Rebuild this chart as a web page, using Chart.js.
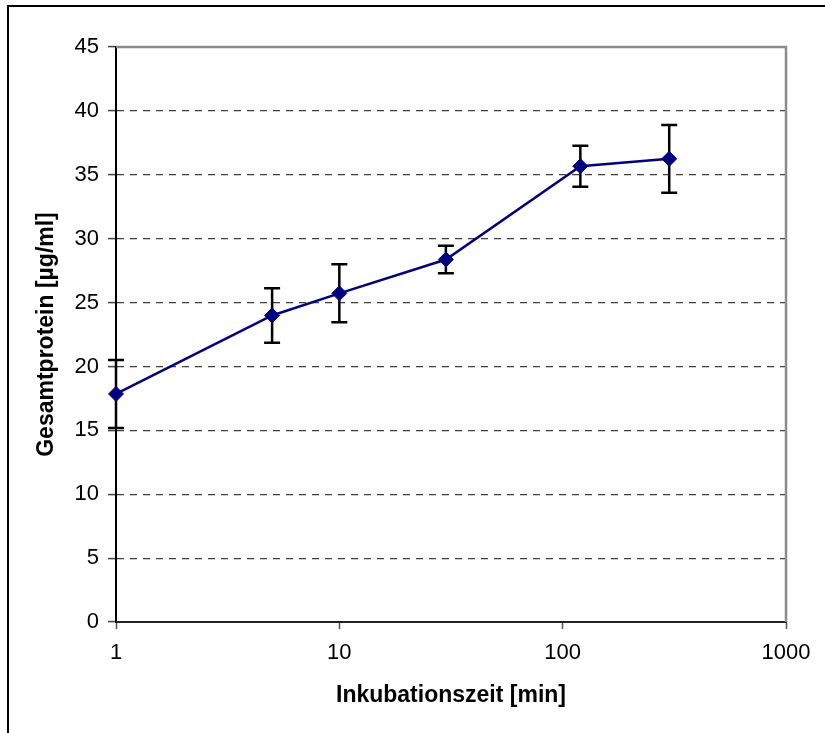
<!DOCTYPE html>
<html>
<head>
<meta charset="utf-8">
<script src="https://cdn.jsdelivr.net/npm/chart.js@4/dist/chart.umd.min.js"></script>
<style>
  html, body { margin: 0; padding: 0; background: #ffffff; }
  #wrap { width: 825px; height: 733px; position: relative; }
</style>
</head>
<body>
<div id="wrap"><canvas id="c" width="825" height="733"></canvas></div>
<script>
// ---- data ----
const incubationMinutes = [1, 5, 10, 30, 120, 300];
const totalProtein = [17.85, 23.99, 25.72, 28.37, 35.67, 36.25];
const proteinError = [2.66, 2.13, 2.27, 1.08, 1.6, 2.65];
const xTickValues = [1, 10, 100, 1000];
const yTickValues = [0, 5, 10, 15, 20, 25, 30, 35, 40, 45];
const xTitle = 'Inkubationszeit [min]';
const yTitle = 'Gesamtprotein [µg/ml]';

const FONT = '"Liberation Sans", Arial, sans-serif';

const points = incubationMinutes.map((x, i) => ({ x: x, y: totalProtein[i] }));

const errorBars = {
  id: 'errorBars',
  beforeDatasetsDraw(chart) {
    const ctx = chart.ctx;
    const xs = chart.scales.x, ys = chart.scales.y;
    ctx.save();
    ctx.strokeStyle = '#000000';
    ctx.lineWidth = 2.5;
    incubationMinutes.forEach((xv, i) => {
      const px = xs.getPixelForValue(xv);
      const top = ys.getPixelForValue(totalProtein[i] + proteinError[i]);
      const bot = ys.getPixelForValue(totalProtein[i] - proteinError[i]);
      const cap = 8;
      ctx.beginPath();
      ctx.moveTo(px, top); ctx.lineTo(px, bot);
      ctx.moveTo(px - cap, top); ctx.lineTo(px + cap, top);
      ctx.moveTo(px - cap, bot); ctx.lineTo(px + cap, bot);
      ctx.stroke();
    });
    ctx.restore();
  }
};

const frame = {
  id: 'frame',
  beforeDraw(chart) {
    const ctx = chart.ctx;
    ctx.save();
    ctx.fillStyle = '#ffffff';
    ctx.fillRect(0, 0, chart.width, chart.height);
    ctx.strokeStyle = '#000000';
    ctx.lineWidth = 2;
    ctx.beginPath();
    ctx.moveTo(8, 733); ctx.lineTo(8, 6); ctx.lineTo(825, 6);
    ctx.stroke();
    ctx.restore();
  },
  beforeDatasetsDraw(chart) {
    const a = chart.chartArea;
    const ctx = chart.ctx;
    ctx.save();
    ctx.strokeStyle = '#8c8c8c';
    ctx.lineWidth = 2.5;
    ctx.beginPath();
    ctx.moveTo(a.left, a.top); ctx.lineTo(a.right, a.top); ctx.lineTo(a.right, a.bottom);
    ctx.stroke();
    ctx.restore();
  }
};

new Chart(document.getElementById('c'), {
  type: 'line',
  data: {
    datasets: [{
      data: points,
      clip: false,
      borderColor: '#000080',
      backgroundColor: '#000080',
      borderWidth: 2.5,
      pointStyle: 'rectRot',
      pointRadius: 7.5,
      pointHoverRadius: 7.5,
      pointBorderWidth: 1,
      pointBackgroundColor: '#000080',
      pointBorderColor: '#000080',
      tension: 0,
      fill: false
    }]
  },
  options: {
    responsive: false,
    animation: false,
    events: [],
    layout: { padding: { top: 47, right: 39, left: 0, bottom: 0 } },
    plugins: { legend: { display: false }, tooltip: { enabled: false } },
    scales: {
      x: {
        type: 'logarithmic',
        min: 1, max: 1000,
        afterBuildTicks(scale) { scale.ticks = xTickValues.map(v => ({ value: v })); },
        afterFit(scale) { scale.height = 111; },
        ticks: {
          color: '#000000',
          font: { family: FONT, size: 22 },
          padding: 11,
          maxRotation: 0,
          autoSkip: false,
          callback: (v) => String(v)
        },
        grid: {
          drawOnChartArea: false,
          drawTicks: true,
          tickLength: 7,
          tickColor: '#555555',
          tickWidth: 1.5
        },
        border: { display: true, color: '#222222', width: 2 },
        title: {
          display: true,
          text: xTitle,
          color: '#000000',
          font: { family: FONT, size: 23, weight: 'bold' },
          padding: { top: 0, bottom: 24 }
        }
      },
      y: {
        type: 'linear',
        min: 0, max: 45,
        afterBuildTicks(scale) { scale.ticks = yTickValues.map(v => ({ value: v })); },
        afterFit(scale) { scale.width = 116; },
        ticks: {
          color: '#000000',
          font: { family: FONT, size: 22 },
          padding: 9,
          autoSkip: false,
          callback: (v) => String(v)
        },
        grid: {
          drawOnChartArea: true,
          color: (ctx) => (ctx.tick && (ctx.tick.value === 0 || ctx.tick.value === 45)) ? 'rgba(0,0,0,0)' : '#3f3f3f',
          lineWidth: 1.2,
          drawTicks: true,
          tickLength: 8,
          tickColor: '#444444',
          tickWidth: 1.5,
          tickBorderDash: []
        },
        border: { display: true, color: '#000000', width: 2, dash: [7, 6] },
        title: {
          display: true,
          text: yTitle,
          color: '#000000',
          font: { family: FONT, size: 23, weight: 'bold' },
          padding: { top: 33, bottom: 0 }
        }
      }
    }
  },
  plugins: [frame, errorBars]
});
</script>
</body>
</html>
